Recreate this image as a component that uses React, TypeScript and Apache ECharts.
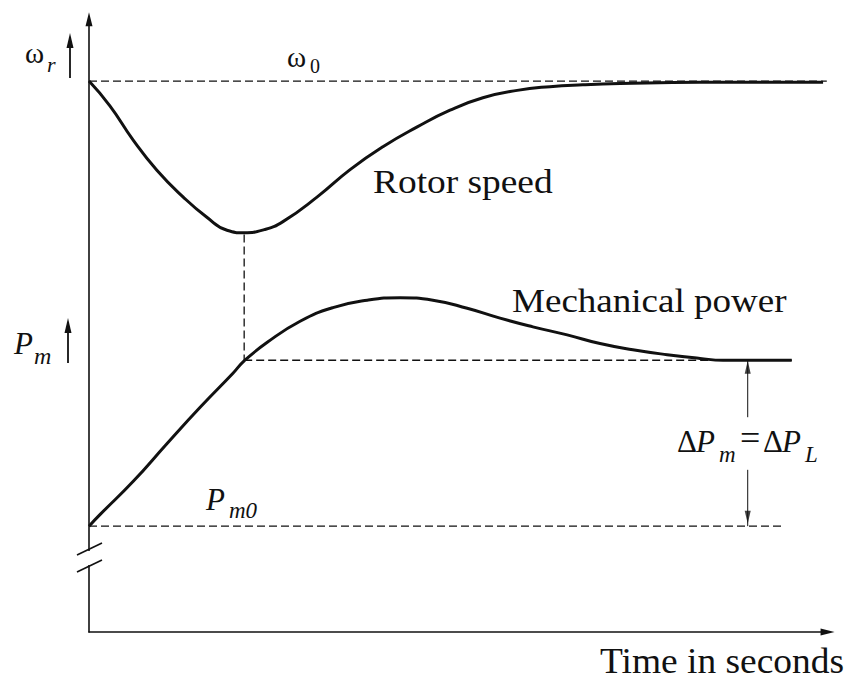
import React, { useEffect, useRef } from "react";
import * as echarts from "echarts";

// ---- data (arbitrary time / magnitude units) ----
const rotorTime = [0, 2.8, 5.9, 9.1, 12.6, 15.8, 18.5, 20.8, 23.5, 26.0, 30.6, 35.0, 39.4, 44.0, 48.4, 52.8, 57.4, 61.8, 66.2, 71.2, 81.9, 98.4];
const rotorSpeed = [89.0, 85.0, 79.5, 74.6, 70.3, 67.0, 64.9, 64.5, 65.0, 66.3, 70.3, 74.7, 78.4, 81.6, 84.3, 86.3, 87.5, 88.1, 88.4, 88.6, 88.8, 88.8];
const powerTime = [0, 1.5, 5.9, 10.5, 14.9, 19.3, 20.8, 23.9, 28.3, 32.7, 37.3, 41.7, 46.1, 50.7, 55.1, 59.5, 64.1, 68.5, 72.9, 77.5, 81.9, 85.0, 94.2];
const mechPower = [17.1, 19.0, 24.3, 30.5, 36.3, 41.8, 43.8, 46.8, 50.2, 52.4, 53.6, 54.0, 53.6, 52.3, 50.7, 49.3, 48.0, 46.6, 45.6, 44.8, 44.2, 43.9, 43.9];

const omega0 = 89.0;
const omega0End = 98.9;
const pmFinal = 43.9;
const pmFinalEnd = 94.2;
const pm0 = 17.1;
const pm0End = 93.3;
const tSpeedMin = 20.8;
const speedMin = 64.2;
const deltaTime = 88.3;
const deltaGapTop = 34.7;
const deltaGapBottom = 26.2;

const xMax = 99;
const yMax = 99;

const INK = "#111";

function label(text: string, x: number, baseline: number, size: number, italic = false, scaleX = 1) {
  return {
    type: "text",
    x,
    y: baseline - 0.34 * size,
    scaleX,
    z: 100,
    silent: true,
    style: {
      text,
      x: 0,
      y: 0,
      fill: INK,
      fontSize: size,
      fontFamily: "Liberation Serif",
      fontStyle: italic ? "italic" : "normal",
      align: "left",
      verticalAlign: "middle",
    },
  };
}

function upArrow(x: number, tip: number, bottom: number) {
  return [
    { type: "line", z: 100, silent: true, shape: { x1: x, y1: tip + 10, x2: x, y2: bottom }, style: { stroke: INK, lineWidth: 1.8 } },
    { type: "polygon", z: 100, silent: true, shape: { points: [[x, tip], [x - 3.5, tip + 15], [x + 3.5, tip + 15]] }, style: { fill: INK } },
  ];
}

function dashed(points: number[][]) {
  return {
    type: "line",
    data: points,
    showSymbol: false,
    silent: true,
    z: 3,
    lineStyle: { color: INK, width: 1.3, type: [8, 4] },
  };
}

function solidThin(points: number[][]) {
  return {
    type: "line",
    data: points,
    showSymbol: false,
    silent: true,
    z: 3,
    lineStyle: { color: INK, width: 1 },
  };
}

export default function App() {
  const ref = useRef<HTMLDivElement>(null);
  useEffect(() => {
    if (!ref.current) return;
    const chart = echarts.init(ref.current, null, { renderer: "svg" });
    const axisLine = {
      show: true,
      symbol: ["none", "triangle"],
      symbolSize: [7, 14],
      lineStyle: { color: INK, width: 1.6 },
    };
    chart.setOption({
      animation: false,
      backgroundColor: "#fff",
      textStyle: { fontFamily: "Liberation Serif" },
      grid: { left: 89, right: 847 - 89 - xMax * 7.46, top: 632 - yMax * 6.19, bottom: 47 },
      xAxis: {
        type: "value",
        min: 0,
        max: xMax,
        axisLine,
        axisTick: { show: false },
        axisLabel: { show: false },
        splitLine: { show: false },
      },
      yAxis: {
        type: "value",
        min: 0,
        max: yMax,
        axisLine,
        axisTick: { show: false },
        axisLabel: { show: false },
        splitLine: { show: false },
      },
      series: [
        dashed([[0, omega0], [omega0End, omega0]]),
        dashed([[tSpeedMin, pmFinal], [pmFinalEnd, pmFinal]]),
        dashed([[0, pm0], [pm0End, pm0]]),
        dashed([[tSpeedMin, speedMin], [tSpeedMin, pmFinal]]),
        solidThin([[deltaTime, deltaGapTop], [deltaTime, pmFinal]]),
        solidThin([[deltaTime, deltaGapBottom], [deltaTime, pm0]]),
        {
          type: "scatter",
          silent: true,
          symbol: "triangle",
          symbolSize: [6, 13],
          itemStyle: { color: INK },
          z: 4,
          data: [
            { value: [deltaTime, pmFinal], symbolRotate: 0, symbolOffset: [0, 7] },
            { value: [deltaTime, pm0 + 0.3], symbolRotate: 180, symbolOffset: [0, -7] },
          ],
        },
        {
          name: "Rotor speed",
          type: "line",
          data: rotorTime.map((t, i) => [t, rotorSpeed[i]]),
          smooth: 0.5,
          showSymbol: false,
          z: 5,
          lineStyle: { color: INK, width: 3 },
        },
        {
          name: "Mechanical power",
          type: "line",
          data: powerTime.map((t, i) => [t, mechPower[i]]),
          smooth: 0.5,
          showSymbol: false,
          z: 5,
          lineStyle: { color: INK, width: 3 },
        },
      ],
      graphic: [
        // axis break
        { type: "rect", z: 100, silent: true, shape: { x: 83, y: 551, width: 12, height: 14 }, style: { fill: "#fff" } },
        { type: "line", z: 101, silent: true, shape: { x1: 77, y1: 555, x2: 102, y2: 543 }, style: { stroke: INK, lineWidth: 1.6 } },
        { type: "line", z: 101, silent: true, shape: { x1: 77, y1: 572, x2: 102, y2: 560 }, style: { stroke: INK, lineWidth: 1.6 } },
        // label arrows
        ...upArrow(70, 33, 78),
        ...upArrow(68, 318, 363),
        // labels
        label("ω", 25, 63, 29),
        label("r", 47, 72, 22, true),
        label("ω", 287, 67, 29),
        label("0", 310, 73, 20),
        label("P", 14, 354, 31, true),
        label("m", 34, 364, 24, true),
        label("P", 206, 510, 31, true),
        label("m0", 229, 518, 23, true),
        label("Rotor speed", 373, 193, 34, false, 1.1),
        label("Mechanical power", 512, 312, 34, false, 1.09),
        label("Time in seconds", 600, 673, 35, false, 1.07),
        label("Δ", 677, 452, 31),
        label("P", 696, 452, 31, true),
        label("m", 719, 462, 23, true),
        label("=", 740, 450, 36),
        label("Δ", 763, 452, 31),
        label("P", 782, 452, 31, true),
        label("L", 805, 462, 23, true),
      ],
    });
    return () => chart.dispose();
  }, []);
  return (
    <div
      ref={ref}
      style={{ position: "fixed", left: 0, top: 0, width: 847, height: 679, background: "#fff" }}
    />
  );
}
